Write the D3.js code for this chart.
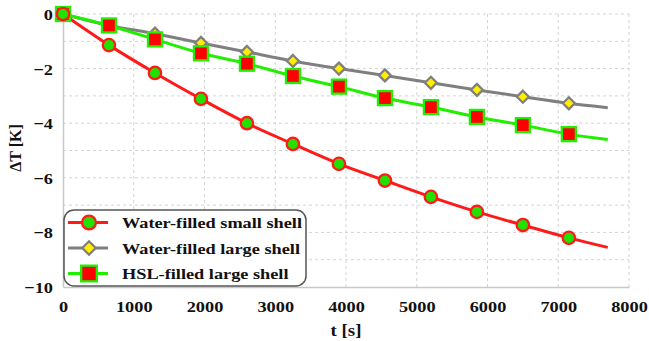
<!DOCTYPE html>
<html>
<head>
<meta charset="utf-8">
<script src="https://cdn.jsdelivr.net/npm/d3@7"></script>
<style>
    body { margin: 0; background: #fff; }
</style>
</head>
<body>
<div id="chart"></div>
<script>
// time axis (s)
const times = [0, 650, 1300, 1950, 2600, 3250, 3900, 4550, 5200, 5850, 6500, 7150, 7700];

// ΔT [K] per series, last value is the line end (no marker)
const smallWater = [0, -1.14, -2.16, -3.11, -4.0, -4.76, -5.49, -6.1, -6.7, -7.25, -7.73, -8.2, -8.55];
const largeWater = [0, -0.42, -0.72, -1.06, -1.39, -1.72, -2.0, -2.25, -2.52, -2.78, -3.03, -3.27, -3.43];
const largeHsl   = [0, -0.42, -0.93, -1.44, -1.82, -2.27, -2.66, -3.08, -3.41, -3.77, -4.07, -4.4, -4.6];

const seriesNames = ["Water-filled small shell", "Water-filled large shell", "HSL-filled large shell"];
const xTicks = [0, 1000, 2000, 3000, 4000, 5000, 6000, 7000, 8000];
const yTicks = [0, -2, -4, -6, -8, -10];

const width = 649, height = 341;
const margin = { top: 14, right: 20, bottom: 54, left: 63 };
const plotW = 629 - margin.left;
const plotH = 287 - margin.top;
const serif = "Liberation Serif, Times New Roman, DejaVu Serif, serif";
const stretch = 1.18; // the source image is a bit wider than tall

const series = [
    { name: seriesNames[0], values: smallWater, line: "#ff1a1a", fill: "#22e000", stroke: "#ff1a1a", shape: "circle" },
    { name: seriesNames[1], values: largeWater, line: "#7f7f7f", fill: "#ffee00", stroke: "#7f7f7f", shape: "diamond" },
    { name: seriesNames[2], values: largeHsl,   line: "#22ee00", fill: "#ff0000", stroke: "#22ee00", shape: "square" }
];

function serifText(sel, size) {
    return sel.attr("font-family", serif)
        .attr("font-weight", "bold")
        .attr("font-size", size)
        .attr("fill", "#111");
}

const svg = d3.select("#chart").append("svg")
    .attr("width", width)
    .attr("height", height);

const plot = svg.append("g")
    .attr("transform", `translate(${margin.left},${margin.top})`);

const xScale = d3.scaleLinear().domain([0, 8000]).range([0, plotW]);
const yScale = d3.scaleLinear().domain([-10, 0]).range([plotH, 0]);

// grid, every 1 K and every 1000 s
plot.append("g").selectAll("line")
    .data(d3.range(-9, 1))
    .enter().append("line")
    .attr("x1", 0).attr("x2", plotW)
    .attr("y1", d => yScale(d)).attr("y2", d => yScale(d))
    .attr("stroke", "#d4d4d4")
    .attr("stroke-dasharray", "3,3");

plot.append("g").selectAll("line")
    .data(xTicks.slice(1))
    .enter().append("line")
    .attr("x1", d => xScale(d)).attr("x2", d => xScale(d))
    .attr("y1", 0).attr("y2", plotH)
    .attr("stroke", "#d4d4d4")
    .attr("stroke-dasharray", "3,3");

// axes
const xAxis = d3.axisBottom(xScale).tickValues(xTicks).tickFormat(d3.format("d")).tickSize(0).tickPadding(14);
const yAxis = d3.axisLeft(yScale).tickValues(yTicks).tickFormat(d3.format("d")).tickSize(0).tickPadding(10);

const gx = plot.append("g")
    .attr("transform", `translate(0,${plotH})`)
    .call(xAxis);
gx.select(".domain").attr("stroke", "#c8c8c8").attr("stroke-width", 1.5);
serifText(gx, 15.5);
gx.selectAll("text").attr("fill", "#111").attr("transform", `scale(${stretch},1)`);

const gy = plot.append("g").call(yAxis);
gy.select(".domain").attr("stroke", "#c8c8c8").attr("stroke-width", 1.5);
serifText(gy, 15.5);
gy.selectAll("text").attr("fill", "#111").attr("dy", "0.36em")
    .attr("transform", `scale(${stretch},1)`)
    .attr("x", -10 / stretch);

serifText(svg.append("text"), 16)
    .attr("transform", `translate(346,336) scale(${stretch},1)`)
    .attr("text-anchor", "middle")
    .text("t [s]");

serifText(svg.append("text"), 16)
    .attr("transform", "translate(21,148) rotate(-90)")
    .attr("text-anchor", "middle")
    .text("ΔT [K]");

// series lines
const line = d3.line()
    .x((d, i) => xScale(times[i]))
    .y(d => yScale(d))
    .curve(d3.curveMonotoneX);

function drawMarker(g, shape, fill, stroke, k) {
    if (shape === "circle") {
        g.append("circle").attr("r", 6.2 * k)
            .attr("fill", fill).attr("stroke", stroke).attr("stroke-width", 2.3);
    } else if (shape === "diamond") {
        const a = 6 * k;
        g.append("path").attr("d", `M0,${-a}L${a},0L0,${a}L${-a},0Z`)
            .attr("fill", fill).attr("stroke", stroke).attr("stroke-width", 2.3);
    } else {
        const a = 7 * k;
        g.append("rect").attr("x", -a).attr("y", -a).attr("width", 2 * a).attr("height", 2 * a)
            .attr("fill", fill).attr("stroke", stroke).attr("stroke-width", 2.3);
    }
}

series.forEach(s => {
    plot.append("path")
        .datum(s.values)
        .attr("fill", "none")
        .attr("stroke", s.line)
        .attr("stroke-width", 3)
        .attr("d", line);
});

// markers drawn so the bottom-most series sits underneath
[1, 2, 0].forEach(k => {
    const s = series[k];
    s.values.slice(0, -1).forEach((v, i) => {
        const g = plot.append("g")
            .attr("transform", `translate(${xScale(times[i])},${yScale(v)})`);
        drawMarker(g, s.shape, s.fill, s.stroke, 1);
    });
});

// legend
const legend = svg.append("g");
legend.append("rect")
    .attr("x", 64).attr("y", 210)
    .attr("width", 242).attr("height", 76)
    .attr("rx", 10)
    .attr("fill", "#fff")
    .attr("stroke", "#555")
    .attr("stroke-width", 1.5);

series.forEach((s, i) => {
    const cy = 222.5 + i * 25.5;
    legend.append("line")
        .attr("x1", 68).attr("x2", 108)
        .attr("y1", cy).attr("y2", cy)
        .attr("stroke", s.line)
        .attr("stroke-width", 3);
    const g = legend.append("g").attr("transform", `translate(89,${cy})`);
    drawMarker(g, s.shape, s.fill, s.stroke, 1.12);
    serifText(legend.append("text"), 15.5)
        .attr("transform", `translate(122,${cy + 5.5}) scale(${stretch},1)`)
        .text(s.name);
});
</script>
</body>
</html>
